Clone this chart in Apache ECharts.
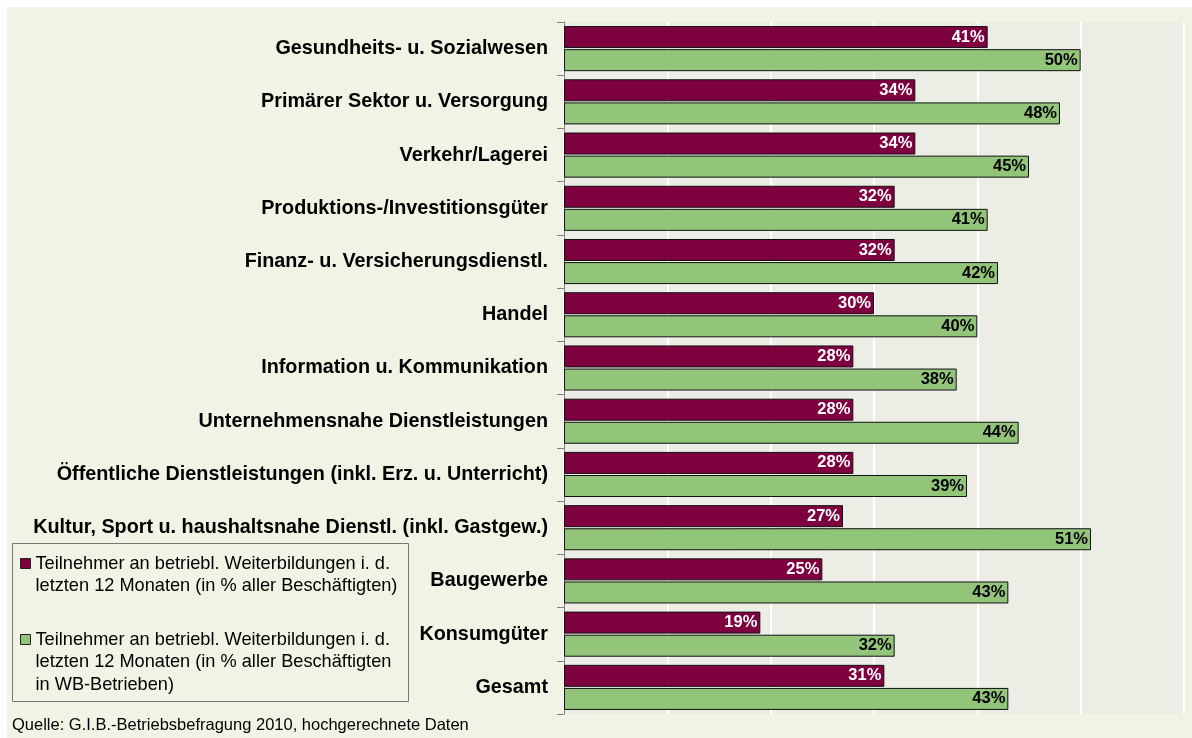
<!DOCTYPE html>
<html>
<head>
<meta charset="utf-8">
<script src="https://cdn.jsdelivr.net/npm/echarts@6/dist/echarts.min.js"></script>
<style>
  html, body { margin: 0; padding: 0; background: #fff; }
  #chart { width: 1192px; height: 738px; }
</style>
</head>
<body>
<div id="chart"></div>
<script>
// Branchen (von oben nach unten)
const categories = [
  'Gesundheits- u. Sozialwesen',
  'Primärer Sektor u. Versorgung',
  'Verkehr/Lagerei',
  'Produktions-/Investitionsgüter',
  'Finanz- u. Versicherungsdienstl.',
  'Handel',
  'Information u. Kommunikation',
  'Unternehmensnahe Dienstleistungen',
  'Öffentliche Dienstleistungen (inkl. Erz. u. Unterricht)',
  'Kultur, Sport u. haushaltsnahe Dienstl. (inkl. Gastgew.)',
  'Baugewerbe',
  'Konsumgüter',
  'Gesamt'
]
// Teilnehmer in % aller Beschäftigten
const allEmployees = [41, 34, 34, 32, 32, 30, 28, 28, 28, 27, 25, 19, 31]
// Teilnehmer in % aller Beschäftigten in WB-Betrieben
const wbEmployees = [50, 48, 45, 41, 42, 40, 38, 44, 39, 51, 43, 32, 43]

const seriesNames = ['alle', 'wb']
const legendTexts = [
  'Teilnehmer an betriebl. Weiterbildungen i. d.\nletzten 12 Monaten (in % aller Beschäftigten)',
  'Teilnehmer an betriebl. Weiterbildungen i. d.\nletzten 12 Monaten (in % aller Beschäftigten\nin WB-Betrieben)'
]
const sourceText = 'Quelle: G.I.B.-Betriebsbefragung 2010, hochgerechnete Daten'

const FONT = '"Liberation Sans", Arial, sans-serif'
const colors = ['#7F003F', '#92C47A']

const chart = echarts.init(document.getElementById('chart'))

const legendTextStyle = {
  fontFamily: FONT,
  fontSize: 18.2,
  lineHeight: 22.5,
  color: '#000'
}

const option = {
  backgroundColor: '#fff',
  animation: false,
  graphic: [
    {
      type: 'rect',
      z: -10,
      shape: { x: 7, y: 7, width: 1185, height: 731 },
      style: { fill: '#F3F3E5' }
    },
    {
      type: 'rect',
      z: 5,
      shape: { x: 12.5, y: 543.5, width: 396, height: 158 },
      style: { fill: 'none', stroke: '#777', lineWidth: 1 }
    },
    {
      type: 'text',
      left: 12,
      top: 717,
      style: { text: sourceText, font: '16.5px ' + FONT, fill: '#000' }
    }
  ],
  grid: {
    left: 564,
    right: 8,
    top: 22,
    bottom: 24,
    show: true,
    backgroundColor: '#ECEEE6',
    borderWidth: 0
  },
  legend: [
    {
      data: [seriesNames[0]],
      left: 20,
      top: 552,
      padding: 0,
      selectedMode: false,
      itemWidth: 10,
      itemHeight: 45,
      icon: 'path://M0,0L0,0M0,6L10,6L10,16L0,16ZM10,45L10,45',
      itemStyle: { borderColor: '#222', borderWidth: 1 },
      formatter: () => legendTexts[0],
      textStyle: legendTextStyle
    },
    {
      data: [seriesNames[1]],
      left: 20,
      top: 628,
      padding: 0,
      selectedMode: false,
      itemWidth: 10,
      itemHeight: 67.5,
      icon: 'path://M0,0L0,0M0,6L10,6L10,16L0,16ZM10,67.5L10,67.5',
      itemStyle: { borderColor: '#222', borderWidth: 1 },
      formatter: () => legendTexts[1],
      textStyle: legendTextStyle
    }
  ],
  xAxis: {
    type: 'value',
    min: 0,
    max: 60,
    interval: 10,
    axisLine: { show: false },
    axisTick: { show: false },
    axisLabel: { show: false },
    splitLine: { lineStyle: { color: '#fff', width: 2 } }
  },
  yAxis: {
    type: 'category',
    data: categories,
    inverse: true,
    axisLine: { lineStyle: { color: '#808080', width: 1 } },
    axisTick: { show: true, length: 7, lineStyle: { color: '#808080' } },
    axisLabel: {
      margin: 16,
      fontFamily: FONT,
      fontSize: 19.8,
      fontWeight: 'bold',
      color: '#000'
    }
  },
  series: [
    {
      name: seriesNames[0],
      type: 'bar',
      data: allEmployees,
      barWidth: 22,
      barGap: '5%',
      itemStyle: { color: colors[0], borderColor: '#111', borderWidth: 1 },
      label: {
        show: true,
        position: 'insideRight',
        distance: 3,
        formatter: '{c}%',
        fontFamily: FONT,
        fontSize: 16.5,
        fontWeight: 'bold',
        color: '#fff'
      }
    },
    {
      name: seriesNames[1],
      type: 'bar',
      data: wbEmployees,
      barWidth: 22,
      itemStyle: { color: colors[1], borderColor: '#111', borderWidth: 1 },
      label: {
        show: true,
        position: 'insideRight',
        distance: 3,
        formatter: '{c}%',
        fontFamily: FONT,
        fontSize: 16.5,
        fontWeight: 'bold',
        color: '#000'
      }
    }
  ]
}

chart.setOption(option)
</script>
</body>
</html>
